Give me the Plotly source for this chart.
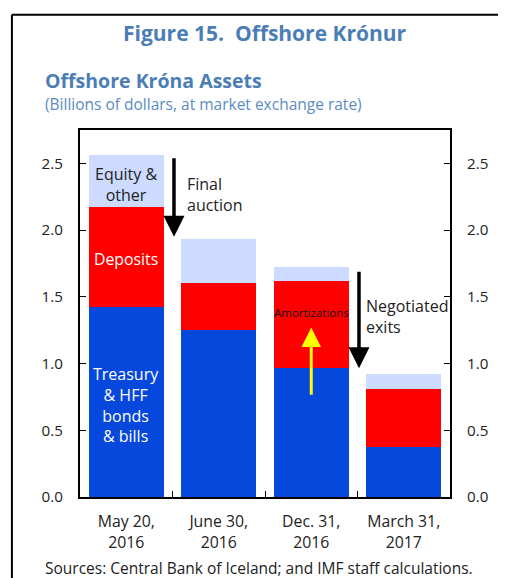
import plotly.graph_objects as go

categories = ["May 20,<br>2016", "June 30,<br>2016", "Dec. 31,<br>2016", "March 31,<br>2017"]
treasury = [1.42, 1.255, 0.97, 0.372]
deposits = [0.75, 0.345, 0.645, 0.434]
equity = [0.39, 0.33, 0.105, 0.114]
y_ticks = [0.0, 0.5, 1.0, 1.5, 2.0, 2.5]

FONT = "Open Sans"
xpos = list(range(len(categories)))

fig = go.Figure()
fig.add_trace(go.Bar(x=xpos, y=treasury, name="Treasury & HFF bonds & bills",
                     marker=dict(color="#0647DC", line=dict(width=0)), width=0.81))
fig.add_trace(go.Bar(x=xpos, y=deposits, name="Deposits",
                     marker=dict(color="#FF0000", line=dict(width=0)), width=0.81))
fig.add_trace(go.Bar(x=xpos, y=equity, name="Equity & other",
                     marker=dict(color="#CCDBFF", line=dict(width=0)), width=0.81))
fig.add_trace(go.Scatter(x=[0], y=[0], yaxis="y2", mode="markers", opacity=0,
                         showlegend=False, hoverinfo="skip"))

fig.update_layout(
    barmode="stack",
    width=498, height=570,
    margin=dict(l=72, r=56, t=122, b=80.5),
    paper_bgcolor="white", plot_bgcolor="white",
    showlegend=False,
    font=dict(family=FONT, color="#222222"),
    xaxis=dict(range=[-0.5, 3.5], tickmode="array", tickvals=xpos, ticktext=categories,
               ticks="", showline=True, linecolor="black", linewidth=2, mirror=True,
               showgrid=False, zeroline=False, tickfont=dict(size=15.8, color="#222"),
               ticklabelstandoff=9,
               minor=dict(tickmode="array", tickvals=[0.5, 1.5, 2.5], ticks="inside",
                          ticklen=6, tickcolor="black", tickwidth=1)),
    yaxis=dict(range=[0, 2.75], tickmode="array", tickvals=y_ticks, tickformat=".1f",
               ticks="inside", ticklen=6, tickcolor="black", showline=True,
               linecolor="black", linewidth=2, showgrid=False, zeroline=False,
               tickfont=dict(size=15.2, color="#222"), ticklabelstandoff=12),
    yaxis2=dict(range=[0, 2.75], tickmode="array", tickvals=y_ticks, tickformat=".1f",
                overlaying="y", side="right", ticks="inside", ticklen=6, tickcolor="black",
                showline=True, linecolor="black", linewidth=2, showgrid=False, zeroline=False,
                tickfont=dict(size=15.2, color="#222"), ticklabelstandoff=12),
)

ann = []
# titles
ann.append(dict(text="<b>Figure 15.&nbsp; Offshore Krónur</b>", xref="paper", yref="paper",
                x=0.501, y=1.265, xanchor="center", yanchor="middle", showarrow=False,
                font=dict(size=21, color="#4A7EB5", family=FONT)))
ann.append(dict(text="<b>Offshore Króna Assets</b>", xref="paper", yref="paper",
                x=-0.099, y=1.134, xanchor="left", yanchor="middle", showarrow=False,
                font=dict(size=19.5, color="#4A7EB5", family=FONT)))
ann.append(dict(text="(Billions of dollars, at market exchange rate)", xref="paper", yref="paper",
                x=-0.099, y=1.071, xanchor="left", yanchor="middle", showarrow=False,
                font=dict(size=15.5, color="#5B8BC5", family=FONT)))
ann.append(dict(text="Sources: Central Bank of Iceland; and IMF staff calculations.", xref="paper",
                yref="paper", x=-0.099, y=-0.193, xanchor="left", yanchor="middle",
                showarrow=False, font=dict(size=15.5, color="#222", family=FONT)))
# bar labels
ann.append(dict(text="Equity &<br>other", x=0, y=2.34, xref="x", yref="y", showarrow=False,
                font=dict(size=16, color="#222")))
ann.append(dict(text="Deposits", x=0, y=1.78, xref="x", yref="y", showarrow=False,
                font=dict(size=15.8, color="white")))
ann.append(dict(text="Treasury<br>& HFF<br>bonds<br>& bills", x=0, y=0.69, xref="x", yref="y",
                showarrow=False, font=dict(size=16, color="white")))
ann.append(dict(text="Final<br>auction", x=0.63, y=2.27, xref="x", yref="y", xanchor="left",
                align="left", showarrow=False, font=dict(size=16, color="#222")))
ann.append(dict(text="Negotiated<br>exits", x=2.575, y=1.355, xref="x", yref="y", xanchor="left",
                align="left", showarrow=False, font=dict(size=16, color="#222")))
ann.append(dict(text="Amortizations", x=2.0, y=1.385, xref="x", yref="y", showarrow=False,
                font=dict(size=11.5, color="#111")))
# arrows
ann.append(dict(x=0.516, y=1.95, ax=0.516, ay=2.55, xref="x", yref="y", axref="x", ayref="y",
                text="", showarrow=True, arrowhead=2, arrowsize=1.2, arrowwidth=3.5,
                arrowcolor="black"))
ann.append(dict(x=2.516, y=0.965, ax=2.516, ay=1.70, xref="x", yref="y", axref="x", ayref="y",
                text="", showarrow=True, arrowhead=2, arrowsize=1.2, arrowwidth=3.5,
                arrowcolor="black"))
ann.append(dict(x=2.0, y=1.27, ax=2.0, ay=0.755, xref="x", yref="y", axref="x", ayref="y",
                text="", showarrow=True, arrowhead=2, arrowsize=1.3, arrowwidth=3,
                arrowcolor="#FFFF00"))
fig.update_layout(annotations=ann)

# frame lines (top and left)
fig.add_shape(type="line", xref="paper", yref="paper", x0=-0.184, x1=1.2, y0=1.3143, y1=1.3143,
              line=dict(color="black", width=2))
fig.add_shape(type="line", xref="paper", yref="paper", x0=-0.184, x1=-0.184, y0=1.3143, y1=-0.25,
              line=dict(color="black", width=2))

fig.write_html("out.html")
